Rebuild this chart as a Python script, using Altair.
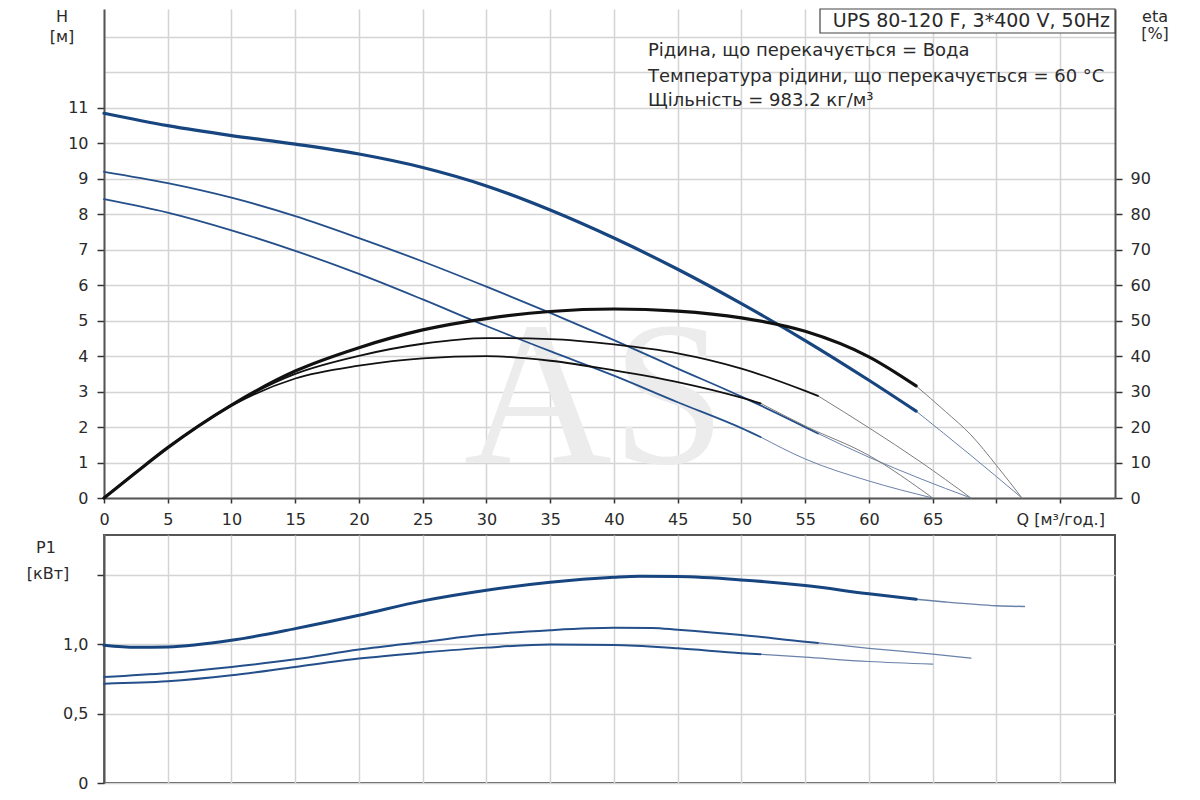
import altair as alt
import pandas as pd

# ---------------- data ----------------
# Head curves H [м] (three speeds), main (working) part and thin extension
Q_H1 = [0, 5, 10, 15, 20, 25, 30, 35, 40, 45, 50, 55, 60, 63.7]
H1 = [10.85, 10.5, 10.22, 9.98, 9.7, 9.32, 8.8, 8.12, 7.33, 6.45, 5.48, 4.44, 3.32, 2.45]
Q_H1_EXT = [63.7, 68, 72]
H1_EXT = [2.45, 1.2, 0]

Q_H2 = [0, 5, 10, 15, 20, 25, 30, 35, 40, 45, 50, 55, 56]
H2 = [9.2, 8.88, 8.47, 7.95, 7.33, 6.67, 5.96, 5.22, 4.45, 3.65, 2.86, 2.0, 1.82]
Q_H2_EXT = [56, 60, 64, 68]
H2_EXT = [1.82, 1.15, 0.55, 0]

Q_H3 = [0, 5, 10, 15, 20, 25, 30, 35, 40, 45, 50, 51.5]
H3 = [8.43, 8.05, 7.55, 6.97, 6.32, 5.6, 4.85, 4.14, 3.45, 2.7, 1.97, 1.72]
Q_H3_EXT = [51.5, 55, 60, 65]
H3_EXT = [1.72, 1.1, 0.48, 0]

# Efficiency curves eta [%]
Q_E1 = [0, 2.5, 5, 10, 15, 20, 25, 30, 35, 40, 45, 50, 55, 60, 63.7]
E1 = [0, 7.2, 14.2, 26.2, 35.8, 42.4, 47.4, 50.6, 52.6, 53.3, 52.7, 50.8, 47.0, 39.8, 31.6]
Q_E1_EXT = [63.7, 66, 68, 70, 72]
E1_EXT = [31.6, 24.4, 17.8, 9.2, 0]

Q_E2 = [0, 2.5, 5, 10, 15, 20, 25, 30, 35, 40, 45, 50, 55, 56]
E2 = [0, 7.2, 14.2, 26.2, 35.0, 40.1, 43.5, 45.1, 44.8, 43.3, 40.8, 36.5, 30.2, 28.8]
Q_E2_EXT = [56, 60, 64, 68]
E2_EXT = [28.8, 19.8, 10.3, 0]

Q_E3 = [0, 2.5, 5, 10, 15, 20, 25, 30, 35, 40, 45, 50, 51.5]
E3 = [0, 7.2, 14.2, 26.0, 33.7, 37.3, 39.4, 40.0, 38.7, 36.0, 32.7, 28.3, 26.7]
Q_E3_EXT = [51.5, 55, 60, 65]
E3_EXT = [26.7, 20.3, 12.0, 0]

# Power curves P1 [кВт]
Q_P1 = [0, 2.5, 5, 10, 15, 20, 25, 30, 35, 40, 42, 45, 50, 55, 60, 63.7]
P1 = [0.993, 0.978, 0.981, 1.029, 1.113, 1.209, 1.313, 1.39, 1.448, 1.483, 1.49, 1.488, 1.464, 1.424, 1.364, 1.325]
Q_P1_EXT = [63.7, 66, 70, 72.2]
P1_EXT = [1.325, 1.305, 1.278, 1.272]

Q_P2 = [0, 5, 10, 15, 20, 25, 30, 35, 40, 43, 45, 50, 55, 56]
P2 = [0.764, 0.793, 0.837, 0.892, 0.962, 1.017, 1.07, 1.102, 1.119, 1.118, 1.105, 1.067, 1.019, 1.01]
Q_P2_EXT = [56, 60, 65, 68]
P2_EXT = [1.01, 0.971, 0.929, 0.9]

Q_P3 = [0, 5, 10, 15, 20, 25, 30, 35, 40, 45, 50, 51.5]
P3 = [0.716, 0.733, 0.776, 0.837, 0.897, 0.94, 0.976, 0.998, 0.995, 0.971, 0.936, 0.928]
Q_P3_EXT = [51.5, 55, 60, 65]
P3_EXT = [0.928, 0.907, 0.876, 0.857]

# Axis ticks and texts
Q_TICKS = list(range(0, 80, 5))
H_TICKS = list(range(0, 14))
ETA_TICKS = list(range(0, 100, 10))
P_TICKS = [0, 0.5, 1.0, 1.5]
BOX_TEXT = "UPS 80-120 F, 3*400 V, 50Hz"
INFO_LINES = [
    "Рідина, що перекачується = Вода",
    "Температура рідини, що перекачується = 60 °C",
    "Щільність = 983.2 кг/м³",
]
WATERMARK = "AS"

# ---------------- styling ----------------
FONT = "DejaVu Sans"
TXT = "#2a2a2a"
GRID = "#d4d4d4"
DOM = "#555555"
BLUE_T = "#17457f"
BLUE = "#244f8a"
BLUE_X = "#6a82aa"
BLACK = "#111111"
GRAY_X = "#7d7d7d"

W, HT, HB = 1011, 489, 248
XMAX, HMAX, EMAX, PMAX = 79.3, 13.79, 137.9, 1.788


def frame(curves):
    rows = []
    for cid, qs, vs, col, w in curves:
        for q, v in zip(qs, vs):
            rows.append({"Q": q, "v": v, "id": cid, "col": col, "w": w})
    return pd.DataFrame(rows)


h_df = frame([
    ("h1x", Q_H1_EXT, H1_EXT, BLUE_X, 1.0),
    ("h2x", Q_H2_EXT, H2_EXT, BLUE_X, 1.0),
    ("h3x", Q_H3_EXT, H3_EXT, BLUE_X, 1.0),
    ("h1", Q_H1, H1, BLUE_T, 3.2),
    ("h2", Q_H2, H2, BLUE, 1.8),
    ("h3", Q_H3, H3, BLUE, 1.8),
])
e_df = frame([
    ("e1x", Q_E1_EXT, E1_EXT, GRAY_X, 1.0),
    ("e2x", Q_E2_EXT, E2_EXT, GRAY_X, 1.0),
    ("e3x", Q_E3_EXT, E3_EXT, GRAY_X, 1.0),
    ("e1", Q_E1, E1, BLACK, 3.2),
    ("e2", Q_E2, E2, BLACK, 1.8),
    ("e3", Q_E3, E3, BLACK, 1.8),
])
p_df = frame([
    ("p1x", Q_P1_EXT, P1_EXT, BLUE_X, 1.5),
    ("p2x", Q_P2_EXT, P2_EXT, BLUE_X, 1.2),
    ("p3x", Q_P3_EXT, P3_EXT, BLUE_X, 1.2),
    ("p1", Q_P1, P1, BLUE_T, 3.0),
    ("p2", Q_P2, P2, BLUE, 2.0),
    ("p3", Q_P3, P3, BLUE, 2.0),
])

xs = alt.Scale(domain=[0, XMAX], nice=False, zero=False)
hs = alt.Scale(domain=[0, HMAX], nice=False)

common_axis = dict(
    labelFont=FONT, labelFontSize=16, labelColor=TXT,
    domainColor=DOM, domainWidth=2, tickColor="#333333", tickWidth=1.5,
    title=None,
)

x_axis_top = alt.Axis(
    values=Q_TICKS,
    labelExpr="datum.value == 75 ? 'Q [м³/год.]' : (datum.value == 70 ? '' : datum.label)",
    grid=True, gridColor=GRID, gridWidth=1.5,
    tickSize=5, labelPadding=8, labelFlush=False, labelOverlap=False,
    **common_axis,
)
h_axis = alt.Axis(
    values=H_TICKS,
    labelExpr="datum.value > 11 ? '' : datum.label",
    tickOpacity={"condition": {"test": "datum.value > 11", "value": 0}, "value": 1},
    grid=True, gridColor=GRID, gridWidth=1.5,
    tickSize=7, labelPadding=9,
    **common_axis,
)
eta_axis = alt.Axis(
    orient="right", values=ETA_TICKS, grid=False,
    tickSize=7, labelPadding=8,
    **common_axis,
)


def label(text, x, y, size=16, align="center", baseline="middle"):
    return alt.Chart(pd.DataFrame({"t": [text]})).mark_text(
        font=FONT, fontSize=size, color=TXT, align=align, baseline=baseline
    ).encode(text="t:N", x=alt.value(x), y=alt.value(y))


watermark = alt.Chart(pd.DataFrame({"t": [WATERMARK]})).mark_text(
    font="Liberation Serif", fontSize=205, color="#ececec",
    align="center", baseline="alphabetic",
).encode(
    text="t:N",
    x=alt.XDatum(38.5, scale=xs, axis=x_axis_top),
    y=alt.YDatum(1.0, scale=hs, axis=h_axis),
)

h_lines = alt.Chart(h_df).mark_line(interpolate="monotone", strokeCap="round").encode(
    x=alt.X("Q:Q", scale=xs, axis=x_axis_top),
    y=alt.Y("v:Q", scale=hs, axis=h_axis),
    detail="id:N",
    color=alt.Color("col:N", scale=None),
    strokeWidth=alt.StrokeWidth("w:Q", scale=None),
)

box = alt.Chart(pd.DataFrame({"t": [BOX_TEXT]})).mark_rect(
    fill="white", stroke="#444444", strokeWidth=1.2
).encode(x=alt.value(716), x2=alt.value(W), y=alt.value(0), y2=alt.value(24))

h_part = alt.layer(
    watermark,
    h_lines,
    box,
    label(BOX_TEXT, W - 5, 12, size=19, align="right"),
    label(INFO_LINES[0], 544, 42, size=18, align="left"),
    label(INFO_LINES[1], 544, 68, size=18, align="left"),
    label(INFO_LINES[2], 544, 92, size=18, align="left"),
    label("H", -42, 0, baseline="top"),
    label("[м]", -42, 28),
    label("eta", 1051, 0, baseline="top"),
    label("[%]", 1051, 25),
)

e_part = alt.Chart(e_df).mark_line(interpolate="monotone", strokeCap="round").encode(
    x=alt.X("Q:Q", scale=xs, axis=x_axis_top),
    y=alt.Y("v:Q", scale=alt.Scale(domain=[0, EMAX], nice=False), axis=eta_axis),
    detail="id:N",
    color=alt.Color("col:N", scale=None),
    strokeWidth=alt.StrokeWidth("w:Q", scale=None),
)

top = alt.layer(h_part, e_part).resolve_scale(y="independent").properties(
    width=W, height=HT
)

p_axis = alt.Axis(
    values=P_TICKS,
    labelExpr="datum.value == 1.5 ? '' : (datum.value == 0 ? '0' : replace(format(datum.value, '.1f'), '.', ','))",
    grid=True, gridColor=GRID, gridWidth=1.5,
    tickSize=7, labelPadding=9,
    **common_axis,
)
x_axis_bottom = alt.Axis(
    values=Q_TICKS, labels=False, ticks=False, domain=False,
    grid=True, gridColor=GRID, gridWidth=1.5, title=None,
)

p_lines = alt.Chart(p_df).mark_line(interpolate="monotone", strokeCap="round").encode(
    x=alt.X("Q:Q", scale=xs, axis=x_axis_bottom),
    y=alt.Y("v:Q", scale=alt.Scale(domain=[0, PMAX], nice=False), axis=p_axis),
    detail="id:N",
    color=alt.Color("col:N", scale=None),
    strokeWidth=alt.StrokeWidth("w:Q", scale=None),
)

bottom = alt.layer(
    p_lines,
    label("P1", -58, 13),
    label("[кВт]", -56, 39),
).properties(
    width=W, height=HB,
    view=alt.ViewBackground(stroke=DOM, strokeWidth=2),
)

chart = alt.vconcat(top, bottom, spacing=7).properties(
    padding={"left": 17, "top": 0, "right": 5, "bottom": 5},
    background="white",
).configure_view(strokeWidth=0)

chart.save("out.html", embed_options={"renderer": "svg", "actions": False})
